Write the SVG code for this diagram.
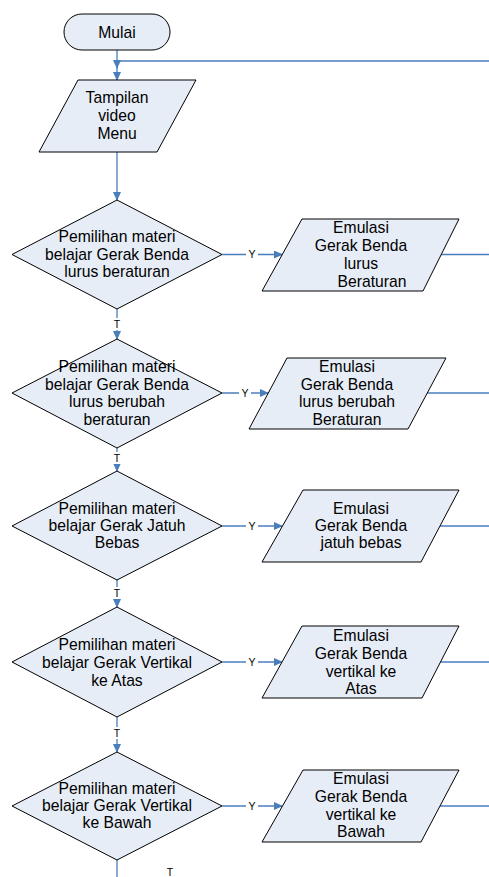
<svg xmlns="http://www.w3.org/2000/svg" width="489" height="877" viewBox="0 0 489 877">
<defs>
<marker id="arr" markerUnits="userSpaceOnUse" markerWidth="9" markerHeight="8" refX="8" refY="4" orient="auto">
<path d="M0,0 L9,4 L0,8 Z" fill="#4a7ebb"/>
</marker>
<style>
.shape{fill:#e7edf7;stroke:#000;stroke-width:1}
.t{font-family:"Liberation Sans",Arial,sans-serif;font-size:15.7px;fill:#000;text-anchor:middle}
.lbl{font-family:"Liberation Sans",Arial,sans-serif;font-size:10.5px;fill:#000;text-anchor:middle}
.c{fill:none;stroke:#4a7ebb;stroke-width:1.3}
.bg{fill:#fff}
</style>
</defs>
<rect width="489" height="877" fill="#fff"/>
<g id="connectors">
<path class="c" d="M117,50 V80" marker-end="url(#arr)"/>
<path class="c" d="M489,61 H117 V68" marker-end="url(#arr)"/>
<path class="c" d="M117,152 V200" marker-end="url(#arr)"/>
<path class="c" d="M117,309 V339" marker-end="url(#arr)"/>
<path class="c" d="M117,448 V471" marker-end="url(#arr)"/>
<path class="c" d="M117,580 V607" marker-end="url(#arr)"/>
<path class="c" d="M117,717 V752" marker-end="url(#arr)"/>
<path class="c" d="M117,860 V877"/>
<path class="c" d="M222,254.5 H282" marker-end="url(#arr)"/>
<path class="c" d="M222,393 H268" marker-end="url(#arr)"/>
<path class="c" d="M222,526 H282" marker-end="url(#arr)"/>
<path class="c" d="M222,662 H282" marker-end="url(#arr)"/>
<path class="c" d="M222,806 H282" marker-end="url(#arr)"/>
<path class="c" d="M441,254.5 H489"/>
<path class="c" d="M427,393 H489"/>
<path class="c" d="M440,526 H489"/>
<path class="c" d="M440,662 H489"/>
<path class="c" d="M440,806 H489"/>
<rect class="bg" x="112" y="318" width="10" height="12"/>
<text class="lbl" x="117" y="328">T</text>
<rect class="bg" x="112" y="452" width="10" height="12"/>
<text class="lbl" x="117" y="462">T</text>
<rect class="bg" x="112" y="587" width="10" height="12"/>
<text class="lbl" x="117" y="597">T</text>
<rect class="bg" x="112" y="727" width="10" height="12"/>
<text class="lbl" x="117" y="737">T</text>
<text class="lbl" x="170" y="876">T</text>
<rect class="bg" x="246" y="248" width="12" height="12"/>
<text class="lbl" x="252" y="258">Y</text>
<rect class="bg" x="239" y="387" width="12" height="12"/>
<text class="lbl" x="245" y="397">Y</text>
<rect class="bg" x="246" y="520" width="12" height="12"/>
<text class="lbl" x="252" y="530">Y</text>
<rect class="bg" x="246" y="656" width="12" height="12"/>
<text class="lbl" x="252" y="666">Y</text>
<rect class="bg" x="246" y="800" width="12" height="12"/>
<text class="lbl" x="252" y="810">Y</text>
</g>
<g id="start">
<rect class="shape" x="64" y="14" width="106" height="36" rx="18" ry="18"/>
<text class="t" x="117" y="38">Mulai</text>
</g>
<g id="menu">
<polygon class="shape" points="78,80 196,80 157,152 39,152"/>
<text class="t" x="117" y="103">Tampilan</text>
<text class="t" x="117" y="121">video</text>
<text class="t" x="117" y="138.5">Menu</text>
</g>
<g id="d1">
<polygon class="shape" points="117,200 222,254.5 117,309 12,254.5"/>
<text class="t" x="117" y="242">Pemilihan materi</text>
<text class="t" x="117" y="259.5">belajar Gerak Benda</text>
<text class="t" x="117" y="277">lurus beraturan</text>
</g>
<g id="p1">
<polygon class="shape" points="302,219 459,219 423,291 262,291"/>
<text class="t" x="361" y="233">Emulasi</text>
<text class="t" x="361" y="251">Gerak Benda</text>
<text class="t" x="361" y="268.5">lurus</text>
<text class="t" x="372" y="286.5">Beraturan</text>
</g>
<g id="d2">
<polygon class="shape" points="117,339 222,393 117,448 12,393"/>
<text class="t" x="117" y="372">Pemilihan materi</text>
<text class="t" x="117" y="389.5">belajar Gerak Benda</text>
<text class="t" x="117" y="407">lurus berubah</text>
<text class="t" x="117" y="424.5">beraturan</text>
</g>
<g id="p2">
<polygon class="shape" points="287,358 446,358 408,429 249,429"/>
<text class="t" x="347" y="372">Emulasi</text>
<text class="t" x="347" y="389.5">Gerak Benda</text>
<text class="t" x="347" y="407">lurus berubah</text>
<text class="t" x="347" y="425">Beraturan</text>
</g>
<g id="d3">
<polygon class="shape" points="117,471 222,526 117,580 12,526"/>
<text class="t" x="117" y="514">Pemilihan materi</text>
<text class="t" x="117" y="531">belajar Gerak Jatuh</text>
<text class="t" x="117" y="548">Bebas</text>
</g>
<g id="p3">
<polygon class="shape" points="303,490 459,490 421,562 262,562"/>
<text class="t" x="361" y="514">Emulasi</text>
<text class="t" x="361" y="531">Gerak Benda</text>
<text class="t" x="361" y="548">jatuh bebas</text>
</g>
<g id="d4">
<polygon class="shape" points="117,607 222,662 117,717 12,662"/>
<text class="t" x="117" y="650">Pemilihan materi</text>
<text class="t" x="117" y="668">belajar Gerak Vertikal</text>
<text class="t" x="117" y="686">ke Atas</text>
</g>
<g id="p4">
<polygon class="shape" points="302,626 459,626 422,698 262,698"/>
<text class="t" x="361" y="641">Emulasi</text>
<text class="t" x="361" y="659">Gerak Benda</text>
<text class="t" x="361" y="677">vertikal ke</text>
<text class="t" x="361" y="694">Atas</text>
</g>
<g id="d5">
<polygon class="shape" points="117,752 222,806 117,860 12,806"/>
<text class="t" x="117" y="794">Pemilihan materi</text>
<text class="t" x="117" y="811">belajar Gerak Vertikal</text>
<text class="t" x="117" y="828">ke Bawah</text>
</g>
<g id="p5">
<polygon class="shape" points="303,770 459,770 421,842 262,842"/>
<text class="t" x="361" y="784">Emulasi</text>
<text class="t" x="361" y="802">Gerak Benda</text>
<text class="t" x="361" y="820">vertikal ke</text>
<text class="t" x="361" y="837">Bawah</text>
</g>
</svg>
